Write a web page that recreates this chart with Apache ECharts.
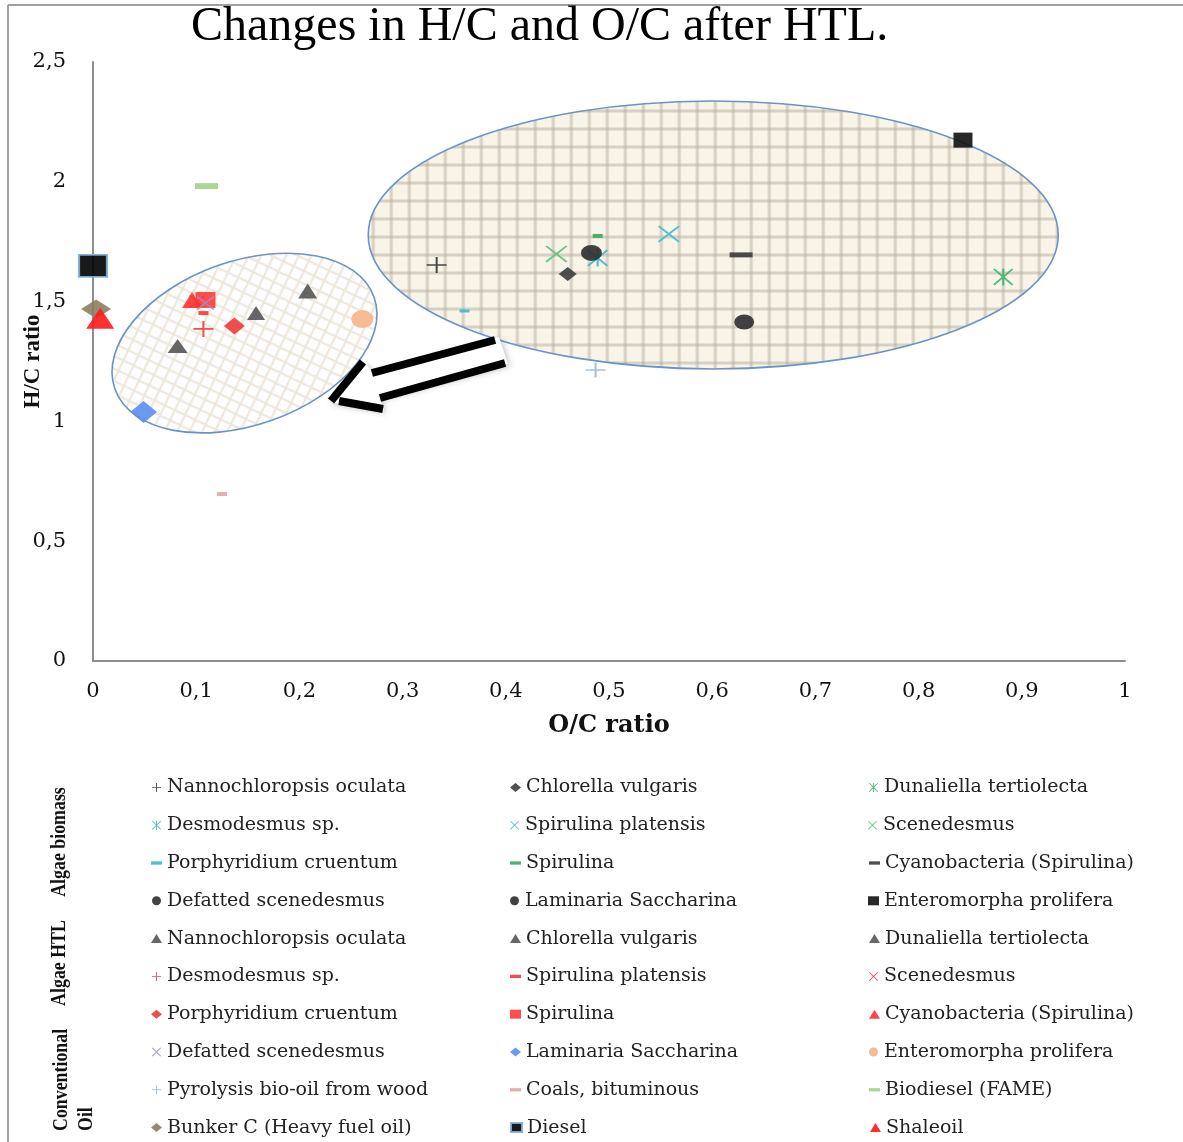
<!DOCTYPE html>
<html><head><meta charset="utf-8">
<script src="https://cdn.jsdelivr.net/npm/echarts@6/dist/echarts.min.js"></script>
<style>html,body{margin:0;padding:0;background:#fff}#c{width:1183px;height:1142px}</style>
</head><body><div id="c"></div>
<script>
// ---------------- data ----------------
const titleText = 'Changes in H/C and O/C after HTL.';
const xAxisName = 'O/C ratio';
const yAxisName = 'H/C ratio';
const groupTitles = ['Algae biomass', 'Algae HTL', 'Conventional\nOil'];

const biomassNames = ['Nannochloropsis oculata','Chlorella vulgaris','Dunaliella tertiolecta','Desmodesmus sp.','Spirulina platensis','Scenedesmus','Porphyridium cruentum','Spirulina','Cyanobacteria (Spirulina)','Defatted scenedesmus','Laminaria Saccharina','Enteromorpha prolifera'];
const biomassOC = [0.333, 0.460, 0.882, 0.489, 0.558, 0.449, 0.360, 0.489, 0.628, 0.483, 0.631, 0.843];
const biomassHC = [1.653, 1.615, 1.603, 1.682, 1.782, 1.699, 1.461, 1.774, 1.695, 1.703, 1.415, 2.174];

const htlNames = ['Nannochloropsis oculata','Chlorella vulgaris','Dunaliella tertiolecta','Desmodesmus sp.','Spirulina platensis','Scenedesmus','Porphyridium cruentum','Spirulina','Cyanobacteria (Spirulina)','Defatted scenedesmus','Laminaria Saccharina','Enteromorpha prolifera'];
const htlOC = [0.082, 0.158, 0.208, 0.107, 0.107, 0.101, 0.137, 0.109, 0.096, 0.109, 0.049, 0.261];
const htlHC = [1.315, 1.452, 1.544, 1.386, 1.452, 1.500, 1.398, 1.507, 1.507, 1.494, 1.039, 1.427];

const oilNames = ['Pyrolysis bio-oil from wood','Coals, bituminous','Biodiesel (FAME)','Bunker C (Heavy fuel oil)','Diesel','Shaleoil'];
const oilOC = [0.487, 0.125, 0.110, 0.003, 0.000, 0.007];
const oilHC = [1.215, 0.697, 1.982, 1.469, 1.649, 1.430];

// annotation shapes (in data units)
const ellipses = [
  {cx: 0.601, cy: 1.778, rx: 0.3343, ry: 0.559, rot: 0, kind: 'grid'},
  {cx: 0.1468, cy: 1.327, rx: 0.1332, ry: 0.342, rot: 19.5, kind: 'lattice'}
];
const arrowOutline = [[0.3934,1.3523],[0.2703,1.2062],[0.2626,1.2521],[0.2287,1.0810],[0.2820,1.0434],[0.2781,1.0977],[0.4021,1.2396]];
const arrowStrokes = [
  [0.3896, 1.3397, 0.2703, 1.2020],
  [0.3993, 1.2437, 0.2781, 1.0977],
  [0.2616, 1.2479, 0.2306, 1.0851],
  [0.2384, 1.0851, 0.2810, 1.0518]
];

// ---------------- styles ----------------
const PLUS = 'path://M9,0H11V9H20V11H11V20H9V11H0V9H9Z';
const CROSSP = 'M0,1.4L1.4,0L10,8.6L18.6,0L20,1.4L11.4,10L20,18.6L18.6,20L10,11.4L1.4,20L0,18.6L8.6,10Z';
const CROSS = 'path://' + CROSSP;
const STAR = 'path://' + CROSSP + 'M9,0H11V20H9Z';
const DASH_ICON = 'path://M0,0H10V3H0Z';

const biomassStyles = [
  {s: PLUS, z: [20,16], c: '#333333'},
  {s: 'diamond', z: [18,14], c: '#3d3d3d'},
  {s: STAR, z: [20,17], c: '#3cb46e'},
  {s: STAR, z: [21,17], c: '#3db8cc'},
  {s: CROSS, z: [22,17], c: '#45bccc'},
  {s: CROSS, z: [22,17], c: '#5cc07a'},
  {s: 'rect', z: [10,3], c: '#3db8cc', icon: DASH_ICON},
  {s: 'rect', z: [10,4], c: '#3aaa60', icon: DASH_ICON},
  {s: 'rect', z: [23,5], c: '#3a3a3a', icon: DASH_ICON},
  {s: 'circle', z: [21,16], c: '#2e2e2e'},
  {s: 'circle', z: [20,15], c: '#2e2e2e'},
  {s: 'rect', z: [19,15], c: '#111111'}
];
const htlStyles = [
  {s: 'triangle', z: [20,14], c: '#555555'},
  {s: 'triangle', z: [18,14], c: '#555555'},
  {s: 'triangle', z: [19,15], c: '#555555'},
  {s: PLUS, z: [20,16], c: '#f03c3c'},
  {s: 'rect', z: [10,4], c: '#f03c3c', icon: DASH_ICON},
  {s: CROSS, z: [16,13], c: '#f03c3c'},
  {s: 'diamond', z: [21,17], c: '#ee3a3a'},
  {s: 'rect', z: [20,16], c: '#ff3a3a'},
  {s: 'triangle', z: [20,16], c: '#ff3030'},
  {s: CROSS, z: [18,14], c: '#9b8fc4'},
  {s: 'diamond', z: [27,22], c: '#5b8ff0'},
  {s: 'circle', z: [22,18], c: '#f7b58a'}
];
const oilStyles = [
  {s: PLUS, z: [20,15], c: '#9db7dc'},
  {s: 'rect', z: [10,4], c: '#e2a3ab', icon: DASH_ICON},
  {s: 'rect', z: [23,6], c: '#a6d08a', icon: DASH_ICON},
  {s: 'diamond', z: [30,19], c: '#8a7e60'},
  {s: 'rect', z: [28,22], c: '#000000', b: '#7fb0dc'},
  {s: 'triangle', z: [28,21], c: '#ff1a1a'}
];

// ---------------- build ----------------
function mkTile(kind) {
  const c = document.createElement('canvas');
  if (kind === 'grid') {
    c.width = c.height = 18;
    const g = c.getContext('2d');
    g.fillStyle = '#f8f5e8'; g.fillRect(0, 0, 18, 18);
    g.fillStyle = 'rgba(200,192,178,0.35)';
    g.fillRect(0, 0, 4, 18); g.fillRect(0, 0, 18, 4);
    g.fillStyle = 'rgba(165,158,145,0.25)';
    g.fillRect(1, 0, 2, 18); g.fillRect(0, 1, 18, 2);
  } else {
    c.width = c.height = 16;
    const g = c.getContext('2d');
    g.fillStyle = '#ffffff'; g.fillRect(0, 0, 16, 16);
    g.strokeStyle = 'rgba(220,205,180,0.5)'; g.lineWidth = 2;
    g.beginPath();
    g.moveTo(-2, -2); g.lineTo(18, 18);
    g.moveTo(18, -2); g.lineTo(-2, 18);
    g.stroke();
  }
  return c;
}
const tiles = {grid: mkTile('grid'), lattice: mkTile('lattice')};

const series = [];
const legendData = [];
function addGroup(names, xs, ys, styles, tag) {
  names.forEach((n, i) => {
    const st = styles[i];
    const id = n + '|' + tag;
    series.push({
      type: 'scatter', name: id, clip: false, z: 5,
      symbol: st.s, symbolSize: st.z,
      itemStyle: {color: st.c, opacity: 0.9, borderColor: st.b || st.c, borderWidth: st.b ? 2 : 0},
      data: [[xs[i], ys[i]]]
    });
    const ld = {name: id};
    if (st.icon) ld.icon = st.icon;
    legendData.push(ld);
  });
}
addGroup(biomassNames, biomassOC, biomassHC, biomassStyles, 'b');
addGroup(htlNames, htlOC, htlHC, htlStyles, 'h');
addGroup(oilNames, oilOC, oilHC, oilStyles, 'o');

series.unshift({
  type: 'custom', name: 'ellipses', z: 1, silent: true,
  data: ellipses.map(e => [e.cx, e.cy]),
  renderItem(params, api) {
    const e = ellipses[params.dataIndex];
    const c = api.coord([e.cx, e.cy]);
    const rx = api.size([e.rx, 0])[0];
    const ry = api.size([0, e.ry])[1];
    return {
      type: 'ellipse', x: c[0], y: c[1], rotation: e.rot * Math.PI / 180,
      shape: {cx: 0, cy: 0, rx: rx, ry: ry},
      style: {fill: {image: tiles[e.kind], repeat: 'repeat'}, stroke: '#6d92c8', lineWidth: 1.6}
    };
  }
});
series.push({
  type: 'custom', name: 'arrowFill', z: 3, silent: true,
  data: [[arrowOutline[0][0], arrowOutline[0][1]]],
  renderItem(params, api) {
    const pts = arrowOutline.map(p => api.coord(p));
    return {type: 'polygon', shape: {points: pts},
      style: {fill: '#ffffff', shadowBlur: 6, shadowColor: 'rgba(0,0,0,0.25)', shadowOffsetX: 2, shadowOffsetY: 2}};
  }
});
series.push({
  type: 'custom', name: 'arrowStroke', z: 4, silent: true,
  data: arrowStrokes,
  encode: {x: [0, 2], y: [1, 3]},
  renderItem(params, api) {
    const s = arrowStrokes[params.dataIndex];
    const a = api.coord([s[0], s[1]]), b = api.coord([s[2], s[3]]);
    return {type: 'line', shape: {x1: a[0], y1: a[1], x2: b[0], y2: b[1]},
      style: {stroke: '#000', lineWidth: 8, lineCap: 'butt'}};
  }
});

const fmt = v => String(+v.toFixed(1)).replace('.', ',');
const tickFont = {fontFamily: 'DejaVu Serif', fontSize: 21, color: '#111'};
const groupFont = {fontFamily: 'Liberation Serif', fontWeight: 'bold', fontSize: 21, fill: '#111'};

const option = {
  animation: false,
  backgroundColor: '#ffffff',
  title: {
    text: titleText, left: 186, top: -2,
    textStyle: {fontFamily: 'Liberation Serif', fontSize: 48, fontWeight: 'normal', color: '#000'}
  },
  grid: {left: 93, right: 58, top: 62, bottom: 481, containLabel: false, outerBoundsMode: 'none'},
  xAxis: {
    type: 'value', min: 0, max: 1, interval: 0.1,
    axisLine: {show: true, onZero: false, lineStyle: {color: '#8e8e8e', width: 2}},
    axisTick: {show: false}, splitLine: {show: false},
    axisLabel: Object.assign({margin: 20, formatter: fmt}, tickFont),
    name: xAxisName, nameLocation: 'middle', nameGap: 53, nameMoveOverlap: false,
    nameTextStyle: {fontFamily: 'DejaVu Serif', fontWeight: 'bold', fontSize: 24, color: '#111'}
  },
  yAxis: {
    type: 'value', min: 0, max: 2.5, interval: 0.5,
    axisLine: {show: true, onZero: false, lineStyle: {color: '#8e8e8e', width: 2}},
    axisTick: {show: false}, splitLine: {show: false},
    axisLabel: Object.assign({margin: 27, formatter: fmt}, tickFont),
    name: yAxisName, nameLocation: 'middle', nameGap: 48, nameMoveOverlap: false,
    nameTextStyle: {fontFamily: 'Liberation Serif', fontWeight: 'bold', fontSize: 23, color: '#111'}
  },
  legend: {
    left: 146, top: 770, width: 1100, orient: 'horizontal',
    itemWidth: 11, itemHeight: 9, itemGap: 13, selectedMode: false,
    data: legendData,
    formatter: n => n.split('|')[0],
    textStyle: {fontFamily: 'DejaVu Serif', fontSize: 19, color: '#222', width: 330, overflow: 'truncate', lineHeight: 24.8}
  },
  graphic: [
    {type: 'line', shape: {x1: 8, y1: 5, x2: 1183, y2: 5}, style: {stroke: '#a0a0a0', lineWidth: 2}},
    {type: 'line', shape: {x1: 8, y1: 5, x2: 8, y2: 1142}, style: {stroke: '#a0a0a0', lineWidth: 2}},
    {type: 'text', x: 60, y: 842, rotation: Math.PI / 2, scaleX: 0.85,
      style: Object.assign({text: groupTitles[0], align: 'center', verticalAlign: 'middle'}, groupFont)},
    {type: 'text', x: 60, y: 963, rotation: Math.PI / 2, scaleX: 0.85,
      style: Object.assign({text: groupTitles[1], align: 'center', verticalAlign: 'middle'}, groupFont)},
    {type: 'text', x: 49, y: 1131, rotation: Math.PI / 2, scaleX: 0.85,
      style: Object.assign({text: groupTitles[2], lineHeight: 25, align: 'left', verticalAlign: 'top'}, groupFont)}
  ],
  series: series
};

const chart = echarts.init(document.getElementById('c'), null, {renderer: 'canvas'});
chart.setOption(option);
</script>
</body></html>
